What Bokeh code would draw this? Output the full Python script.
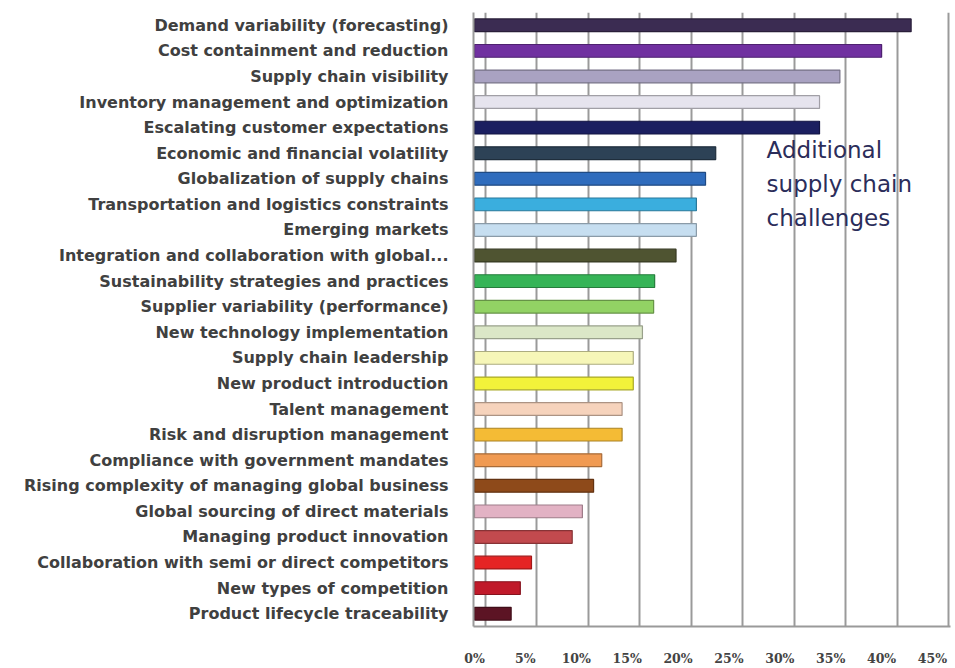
from bokeh.plotting import figure
from bokeh.models import (ColumnDataSource, FactorRange, Range1d, Grid, FixedTicker,
                          PrintfTickFormatter)
from bokeh.core.properties import value
from bokeh.embed import file_html
from bokeh.resources import INLINE

categories = [
    "Demand variability (forecasting)",
    "Cost containment and reduction",
    "Supply chain visibility",
    "Inventory management and optimization",
    "Escalating customer expectations",
    "Economic and financial volatility",
    "Globalization of supply chains",
    "Transportation and logistics constraints",
    "Emerging markets",
    "Integration and collaboration with global...",
    "Sustainability strategies and practices",
    "Supplier variability (performance)",
    "New technology implementation",
    "Supply chain leadership",
    "New product introduction",
    "Talent management",
    "Risk and disruption management",
    "Compliance with government mandates",
    "Rising complexity of managing global business",
    "Global sourcing of direct materials",
    "Managing product innovation",
    "Collaboration with semi or direct competitors",
    "New types of competition",
    "Product lifecycle traceability",
]
values = [42.9, 40.0, 35.9, 33.9, 33.9, 23.7, 22.7, 21.8, 21.8, 19.8, 17.7, 17.6,
          16.5, 15.6, 15.6, 14.5, 14.5, 12.5, 11.7, 10.6, 9.6, 5.6, 4.5, 3.6]
colors = ["#3b2c52", "#7030a0", "#a9a2c2", "#e6e4ee", "#1b1f60", "#2d4256",
          "#2f6cbd", "#3aaede", "#c6def0", "#4f5431", "#36b457", "#92d264",
          "#dbe7c7", "#f6f6b8", "#f2f23a", "#f6d3bc", "#f4bb35", "#f09a52",
          "#8e4a1a", "#e2b2c4", "#c24a4e", "#e52424", "#c01a2a", "#5c1424"]
tick_values = [0, 5, 10, 15, 20, 25, 30, 35, 40, 45]
note = "Additional\nsupply chain\nchallenges"


def darker(c, f=0.7):
    r, g, b = int(c[1:3], 16), int(c[3:5], 16), int(c[5:7], 16)
    return "#%02x%02x%02x" % (int(r * f), int(g * f), int(b * f))


src = ColumnDataSource(dict(cat=categories, val=values, color=colors,
                            edge=[darker(c) for c in colors]))

# front scale (labels, bars) and back-wall scale (gridlines), 3D look
k_front = 458 / 45.0
front_start = -1 / k_front
frame_w = 477
k_back = 463 / 45.0
back_start = -12 / k_back

p = figure(width=955, height=668, output_backend="svg", toolbar_location=None,
           y_range=FactorRange(*categories[::-1], range_padding=0.0),
           x_range=Range1d(front_start, front_start + frame_w / k_front))
p.extra_x_ranges = {"back": Range1d(back_start, back_start + frame_w / k_back)}
p.min_border_left = 473
p.min_border_right = 5
p.min_border_top = 12
p.min_border_bottom = 40
p.outline_line_color = None
p.background_fill_color = "white"
p.border_fill_color = "white"

p.xgrid.visible = False
p.ygrid.visible = False
p.add_layout(Grid(dimension=0, ticker=FixedTicker(ticks=tick_values),
                  x_range_name="back", grid_line_color="#9a9a9a",
                  grid_line_width=2))

p.hbar(y="cat", right="val", left=0, height=0.5, source=src,
       fill_color="color", line_color="edge", line_width=1.2)

p.text(x=[28.7], y=[categories[6]], text=[note], text_align="left",
       text_baseline="middle", y_offset=5, text_font=value("DejaVu Sans"),
       text_font_size="23px", text_color="#2b2d5a", text_line_height=1.3)

xa = p.xaxis[0]
xa.ticker = FixedTicker(ticks=tick_values)
xa.formatter = PrintfTickFormatter(format="%d%%")
xa.major_tick_line_color = None
xa.minor_tick_line_color = None
xa.axis_line_color = "#9a9a9a"
xa.axis_line_width = 2
xa.major_label_standoff = 18
xa.major_label_text_font = "DejaVu Serif"
xa.major_label_text_font_style = "bold"
xa.major_label_text_font_size = "12.5px"
xa.major_label_text_color = "#444444"

ya = p.yaxis[0]
ya.major_tick_line_color = None
ya.minor_tick_line_color = None
ya.axis_line_color = "#9a9a9a"
ya.axis_line_width = 2
ya.major_label_standoff = 19
ya.major_label_text_font = "DejaVu Sans"
ya.major_label_text_font_style = "bold"
ya.major_label_text_font_size = "16px"
ya.major_label_text_color = "#404040"

open("out.html", "w").write(file_html(p, INLINE))
